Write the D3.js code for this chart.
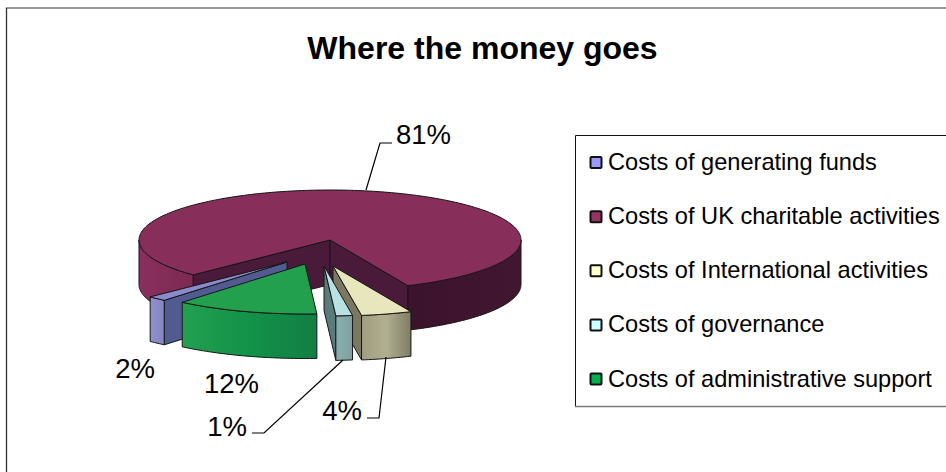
<!DOCTYPE html>
<html><head><meta charset="utf-8">
<script src="https://cdn.jsdelivr.net/npm/d3@7"></script>
<style>html,body{margin:0;padding:0;background:#fff;overflow:hidden}svg{display:block;font-family:"Liberation Sans",Arial,sans-serif}</style>
</head><body><svg id="c" width="946" height="472"></svg>
<script>
// data
const titleText = "Where the money goes";
const categories = ["Costs of generating funds","Costs of UK charitable activities","Costs of International activities","Costs of governance","Costs of administrative support"];
const shares = [1.6, 80.6, 4.3, 1.4, 12.1];

// styles
const legendColors = ["#9999ff","#993366","#ffffcc","#ccffff","#00b050"];
const topColors = ["#8b8bcc","#872e5b","#e8e6bc","#b9e1e3","#22a04e"];
const cutColors = ["#515b92","#4a1a3a","#7a7860","#5b7a7a","#1a7a40"];
const wallStops = [["#9090d0","#8585c2"],["#3c132c","#411630"],["#a09e80","#b1af90","#7e7c64"],["#8aaeae","#80a0a0"],["#23a04f","#12924a","#137e44"]];
const mainLeftWall = ["#8a2f5e","#7c2a53"];

// layout
const W=946,H=472,cx=330,cy=240,rx=191,ry=50,depth=44.5;
const explode=[[-43,22],[0,0],[3,26],[-6,26],[-25,24]];
const drawOrder=[1,0,4,2,3];
const labelAt=[[135,378],[423.5,144],[342,420],[227,436],[231.5,393]];
const leaders=[null,[[366,190],[380,143],[392,143]],[[386,357],[379,418],[367,418]],[[343,360],[264,433],[252,433]],null];

const svg=d3.select("#c");
const defs=svg.append("defs");
svg.append("rect").attr("width",W).attr("height",H).attr("fill","#fff");

// frame
svg.append("line").attr("x1",6).attr("x2",W).attr("y1",8).attr("y2",8).attr("stroke","#777").attr("stroke-width",1.5);
svg.append("line").attr("x1",6.5).attr("x2",6.5).attr("y1",8).attr("y2",H).attr("stroke","#333").attr("stroke-width",1.3);

svg.append("text").attr("x",482.5).attr("y",58.5).attr("text-anchor","middle")
  .attr("font-size",32).attr("font-weight","bold").attr("fill","#000").text(titleText);

// projection
const px=d3.scaleLinear().domain([-1,1]).range([cx-rx,cx+rx]);
const py=d3.scaleLinear().domain([-1,1]).range([cy-ry,cy+ry]);
const pt=(a,off)=>[px(Math.sin(a))+off[0],py(-Math.cos(a))+off[1]];
const line=d3.line();
const TAU=Math.PI*2;
const startA=220*Math.PI/180;
const arcs=d3.pie().sort(null).startAngle(startA).endAngle(startA+TAU)(shares);
const sample=(a0,a1)=>{const n=Math.max(2,Math.ceil((a1-a0)/0.02));return d3.range(n+1).map(i=>a0+(a1-a0)*i/n);};
const down=p=>[p[0],p[1]+depth];
const stroke="#161616";

function face(g,pts,fill){
  g.append("path").attr("d",line(pts)+"Z").attr("fill",fill).attr("stroke",stroke).attr("stroke-width",1).attr("stroke-linejoin","round");
}
function grad(id,colors,x0,x1){
  const lg=defs.append("linearGradient").attr("id",id).attr("gradientUnits","userSpaceOnUse")
    .attr("x1",x0).attr("x2",x1).attr("y1",0).attr("y2",0);
  colors.forEach((c,i)=>lg.append("stop").attr("offset",i/(colors.length-1)).attr("stop-color",c));
  return `url(#${id})`;
}
drawOrder.forEach(i=>{
  const d=arcs[i],off=explode[i],a0=d.startAngle,a1=d.endAngle;
  const g=svg.append("g");
  const apex=[px(0)+off[0],py(0)+off[1]];
  // cut faces, drawn only when they turn towards the viewer
  [[pt(a0,off),-1],[pt(a1,off),1]].forEach(([r,sign])=>{
    if(sign*(r[0]-apex[0])>0) face(g,[apex,r,down(r),down(apex)],cutColors[i]);
  });
  // outer wall: the part of the rim facing the viewer
  [0,1].forEach(k=>{
    const lo=Math.max(a0,Math.PI/2+k*TAU),hi=Math.min(a1,1.5*Math.PI+k*TAU);
    if(hi<=lo) return;
    const rim=sample(lo,hi).map(a=>pt(a,off));
    const xs=rim.map(p=>p[0]);
    const colors=(i===1&&k===0)?mainLeftWall:wallStops[i];
    const fill=grad(`w${i}${k}`,colors,d3.min(xs),d3.max(xs));
    face(g,rim.concat(rim.slice().reverse().map(down)),fill);
  });
  // top
  face(g,[apex].concat(sample(a0,a1).map(a=>pt(a,off))),topColors[i]);
});

// data labels
const labelG=svg.append("g").attr("font-size",27.5).attr("fill","#000").attr("text-anchor","middle");
shares.forEach((v,i)=>{
  labelG.append("text").attr("x",labelAt[i][0]).attr("y",labelAt[i][1]).text(Math.round(v)+"%");
  if(leaders[i]) svg.append("path").attr("d",line(leaders[i])).attr("fill","none").attr("stroke","#000").attr("stroke-width",1.2);
});

// legend
const legY=d3.scalePoint().domain(categories).range([162.5,379]);
svg.append("path").attr("d",`M${W},135.5H575.5V406`).attr("fill","none").attr("stroke","#111").attr("stroke-width",1);
svg.append("line").attr("x1",575).attr("x2",W).attr("y1",406.5).attr("y2",406.5).attr("stroke","#777").attr("stroke-width",1.4);
categories.forEach((c,i)=>{
  const y=legY(c);
  svg.append("rect").attr("x",590.5).attr("y",y-5.5).attr("width",11).attr("height",11)
    .attr("fill",legendColors[i]).attr("stroke","#111").attr("stroke-width",2).attr("rx",1);
  svg.append("text").attr("x",608).attr("y",y+7.5).attr("font-size",23.6).attr("fill","#000").text(c);
});
</script></body></html>
